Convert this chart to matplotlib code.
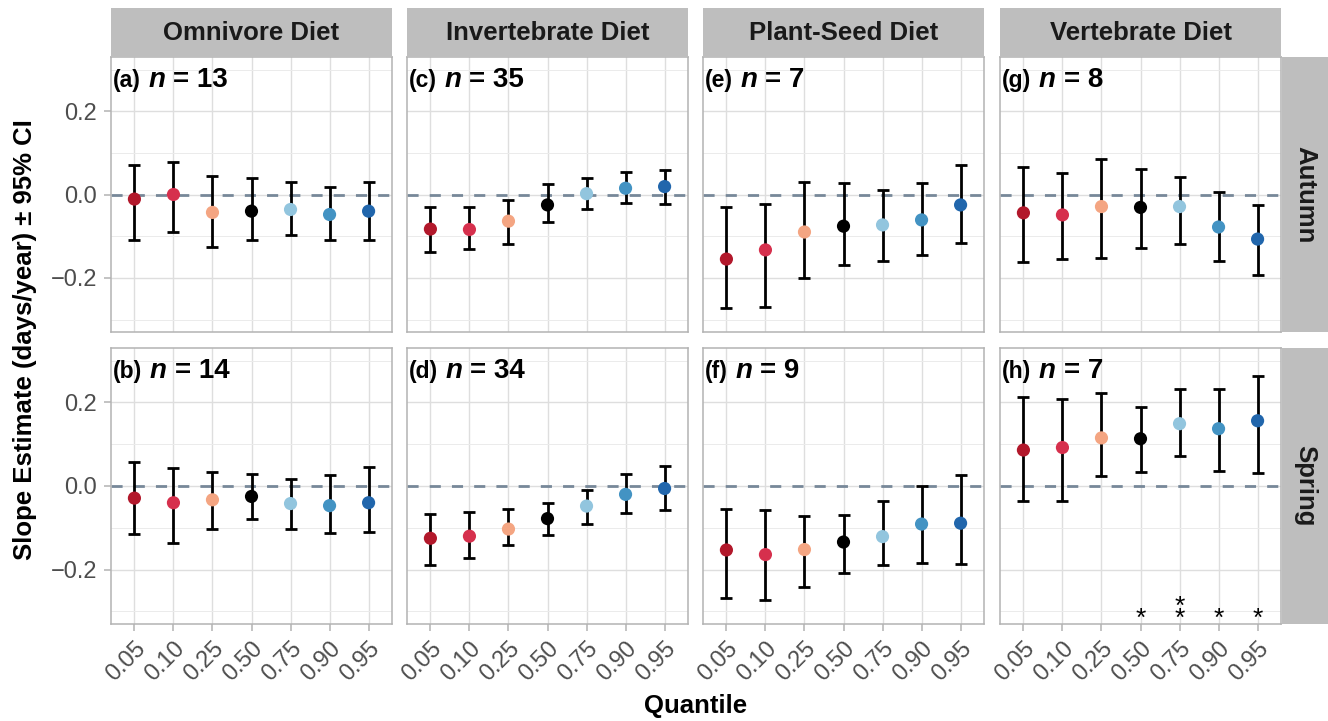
"""
Quantile regression slopes by diet guild and season (2 x 4 facet grid).
"""

import matplotlib.pyplot as plt
from matplotlib.offsetbox import TextArea, HPacker, AnchoredOffsetbox

plt.rcParams["font.family"] = ["Liberation Sans", "DejaVu Sans"]

QUANTILES = ["0.05", "0.10", "0.25", "0.50", "0.75", "0.90", "0.95"]
Q_COLORS = ["#B2182B", "#D6304D", "#F4A582", "#000000", "#92C5DE", "#4393C3", "#2166AC"]

DIETS = ["Omnivore Diet", "Invertebrate Diet", "Plant-Seed Diet", "Vertebrate Diet"]
SEASONS = ["Autumn", "Spring"]

# panel letters and sample sizes (rows = season, cols = diet)
letters_autumn = ["a", "c", "e", "g"]
letters_spring = ["b", "d", "f", "h"]
n_autumn = [13, 35, 7, 8]
n_spring = [14, 34, 9, 7]

# ---- Autumn estimates / 95% CI ----
est_omni_aut = [-0.011, 0.000, -0.043, -0.040, -0.036, -0.048, -0.040]
lo_omni_aut = [-0.110, -0.090, -0.126, -0.110, -0.097, -0.110, -0.110]
hi_omni_aut = [0.072, 0.077, 0.044, 0.040, 0.029, 0.018, 0.029]

est_inv_aut = [-0.083, -0.084, -0.064, -0.025, 0.002, 0.015, 0.019]
lo_inv_aut = [-0.137, -0.130, -0.119, -0.066, -0.034, -0.021, -0.023]
hi_inv_aut = [-0.031, -0.029, -0.014, 0.025, 0.040, 0.055, 0.060]

est_plant_aut = [-0.155, -0.133, -0.090, -0.076, -0.073, -0.061, -0.025]
lo_plant_aut = [-0.272, -0.270, -0.200, -0.170, -0.160, -0.146, -0.117]
hi_plant_aut = [-0.029, -0.023, 0.031, 0.028, 0.010, 0.028, 0.071]

est_vert_aut = [-0.044, -0.049, -0.029, -0.031, -0.029, -0.078, -0.107]
lo_vert_aut = [-0.162, -0.155, -0.152, -0.129, -0.118, -0.159, -0.192]
hi_vert_aut = [0.065, 0.051, 0.086, 0.062, 0.041, 0.005, -0.024]

# ---- Spring estimates / 95% CI ----
est_omni_spr = [-0.029, -0.040, -0.033, -0.025, -0.042, -0.047, -0.040]
lo_omni_spr = [-0.114, -0.136, -0.102, -0.079, -0.102, -0.113, -0.111]
hi_omni_spr = [0.058, 0.044, 0.033, 0.028, 0.017, 0.026, 0.046]

est_inv_spr = [-0.125, -0.120, -0.103, -0.078, -0.048, -0.020, -0.006]
lo_inv_spr = [-0.190, -0.172, -0.142, -0.117, -0.090, -0.064, -0.058]
hi_inv_spr = [-0.068, -0.062, -0.055, -0.040, -0.010, 0.028, 0.048]

est_plant_spr = [-0.153, -0.164, -0.152, -0.134, -0.121, -0.091, -0.089]
lo_plant_spr = [-0.269, -0.272, -0.242, -0.208, -0.189, -0.183, -0.186]
hi_plant_spr = [-0.056, -0.057, -0.071, -0.069, -0.036, 0.001, 0.027]

est_vert_spr = [0.086, 0.092, 0.115, 0.113, 0.149, 0.137, 0.156]
lo_vert_spr = [-0.035, -0.035, 0.025, 0.034, 0.071, 0.036, 0.032]
hi_vert_spr = [0.213, 0.208, 0.223, 0.188, 0.231, 0.233, 0.263]

# significance stars (only Vertebrate / Spring)
stars_vert_spr = ["", "", "", "*", "**", "*", "*"]
STAR_Y = -0.347

rows = [
    [(est_omni_aut, lo_omni_aut, hi_omni_aut), (est_inv_aut, lo_inv_aut, hi_inv_aut),
     (est_plant_aut, lo_plant_aut, hi_plant_aut), (est_vert_aut, lo_vert_aut, hi_vert_aut)],
    [(est_omni_spr, lo_omni_spr, hi_omni_spr), (est_inv_spr, lo_inv_spr, hi_inv_spr),
     (est_plant_spr, lo_plant_spr, hi_plant_spr), (est_vert_spr, lo_vert_spr, hi_vert_spr)],
]
row_letters = [letters_autumn, letters_spring]
row_ns = [n_autumn, n_spring]

W, H = 1328, 721
fig = plt.figure(figsize=(W / 100, H / 100), dpi=100)


def px_axes(x0, y0, x1, y1, **kw):
    return fig.add_axes([x0 / W, 1 - y1 / H, (x1 - x0) / W, (y1 - y0) / H], **kw)


STRIP = "#BEBEBE"
BORDER = "#B3B3B3"
GRID = "#DEDEDE"
col_x = [111, 407, 703, 1000]
panel_w = 281
row_y = [(57, 332), (348, 624)]
xs = list(range(len(QUANTILES)))

for r in range(2):
    y0, y1 = row_y[r]
    for c in range(4):
        x0 = col_x[c]
        ax = px_axes(x0, y0, x0 + panel_w, y1)
        est, lo, hi = rows[r][c]
        yerr = [[e - l for e, l in zip(est, lo)], [h - e for e, h in zip(est, hi)]]

        ax.axhline(0, color="#778899", lw=2.0, ls=(0, (4, 4)), zorder=1)
        ax.errorbar(xs, est, yerr=yerr, fmt="none", ecolor="black",
                    elinewidth=2.0, capsize=4.3, capthick=2.0, zorder=2)
        ax.scatter(xs, est, s=90, c=Q_COLORS, edgecolors="none", zorder=3)

        ax.set_xlim(-0.6, len(QUANTILES) - 0.4)
        ax.set_ylim(-0.33, 0.33)
        ax.set_yticks([-0.2, 0.0, 0.2])
        ax.set_yticks([-0.3, -0.1, 0.1, 0.3], minor=True)
        ax.set_xticks(xs)
        ax.grid(True, which="major", color=GRID, lw=1.0, zorder=0)
        ax.grid(True, which="minor", axis="y", color="#EBEBEB", lw=0.7, zorder=0)
        ax.set_axisbelow(True)
        for s in ax.spines.values():
            s.set_color(BORDER)
            s.set_linewidth(1.1)
        ax.tick_params(which="both", color=BORDER, width=1.1, length=5,
                       labelsize=17, labelcolor="#4D4D4D", pad=5)
        ax.tick_params(which="minor", length=0)

        if c == 0:
            ax.set_yticklabels(["\u22120.2", "0.0", "0.2"])
        else:
            ax.tick_params(axis="y", length=0, labelleft=False)
        if r == 1:
            ax.set_xticklabels(QUANTILES, rotation=45, ha="right", va="top",
                               rotation_mode="anchor")
        else:
            ax.tick_params(axis="x", length=0, labelbottom=False)

        # panel label "(a) n = 13"
        parts = [
            TextArea(f"({row_letters[r][c]})",
                     textprops=dict(fontsize=16.5, fontweight="bold")),
            TextArea("n", textprops=dict(fontsize=20, fontweight="bold",
                                         fontstyle="italic")),
            TextArea(f"= {row_ns[r][c]}",
                     textprops=dict(fontsize=20, fontweight="bold")),
        ]
        box = HPacker(children=parts, align="baseline", pad=0, sep=5.5)
        anc = AnchoredOffsetbox(loc="upper left", child=box, pad=0, borderpad=0.15,
                                frameon=False,
                                bbox_to_anchor=(0, 1 - 8 / (y1 - y0)),
                                bbox_transform=ax.transAxes)
        ax.add_artist(anc)

        if r == 1 and c == 3:
            for i, mark in enumerate(stars_vert_spr):
                if mark:
                    ax.text(xs[i], STAR_Y, "\n".join(mark), ha="center",
                            va="bottom", fontsize=19, linespacing=0.4,
                            color="black")

        # top strips
        if r == 0:
            sx = px_axes(x0, 8, x0 + panel_w, y0)
            sx.set_facecolor(STRIP)
            sx.set_xticks([])
            sx.set_yticks([])
            for s in sx.spines.values():
                s.set_visible(False)
            sx.text(0.5, 0.5, DIETS[c], ha="center", va="center",
                    fontsize=18.5, fontweight="bold", color="#1A1A1A",
                    transform=sx.transAxes)

    # right strips
    rx = px_axes(1282, y0, W, y1)
    rx.set_facecolor(STRIP)
    rx.set_xticks([])
    rx.set_yticks([])
    for s in rx.spines.values():
        s.set_visible(False)
    rx.text(0.5, 0.5, SEASONS[r], ha="center", va="center", rotation=-90,
            fontsize=18.5, fontweight="bold", color="#1A1A1A",
            transform=rx.transAxes)

fig.text(25 / W, 1 - 340 / H, "Slope Estimate (days/year) \u00b1 95% CI",
         rotation=90, ha="center", va="center", fontsize=18.5, fontweight="bold")
fig.text(696 / W, 1 - 706 / H, "Quantile", ha="center", va="center",
         fontsize=18.5, fontweight="bold")

fig.savefig("out.png", dpi=100)
